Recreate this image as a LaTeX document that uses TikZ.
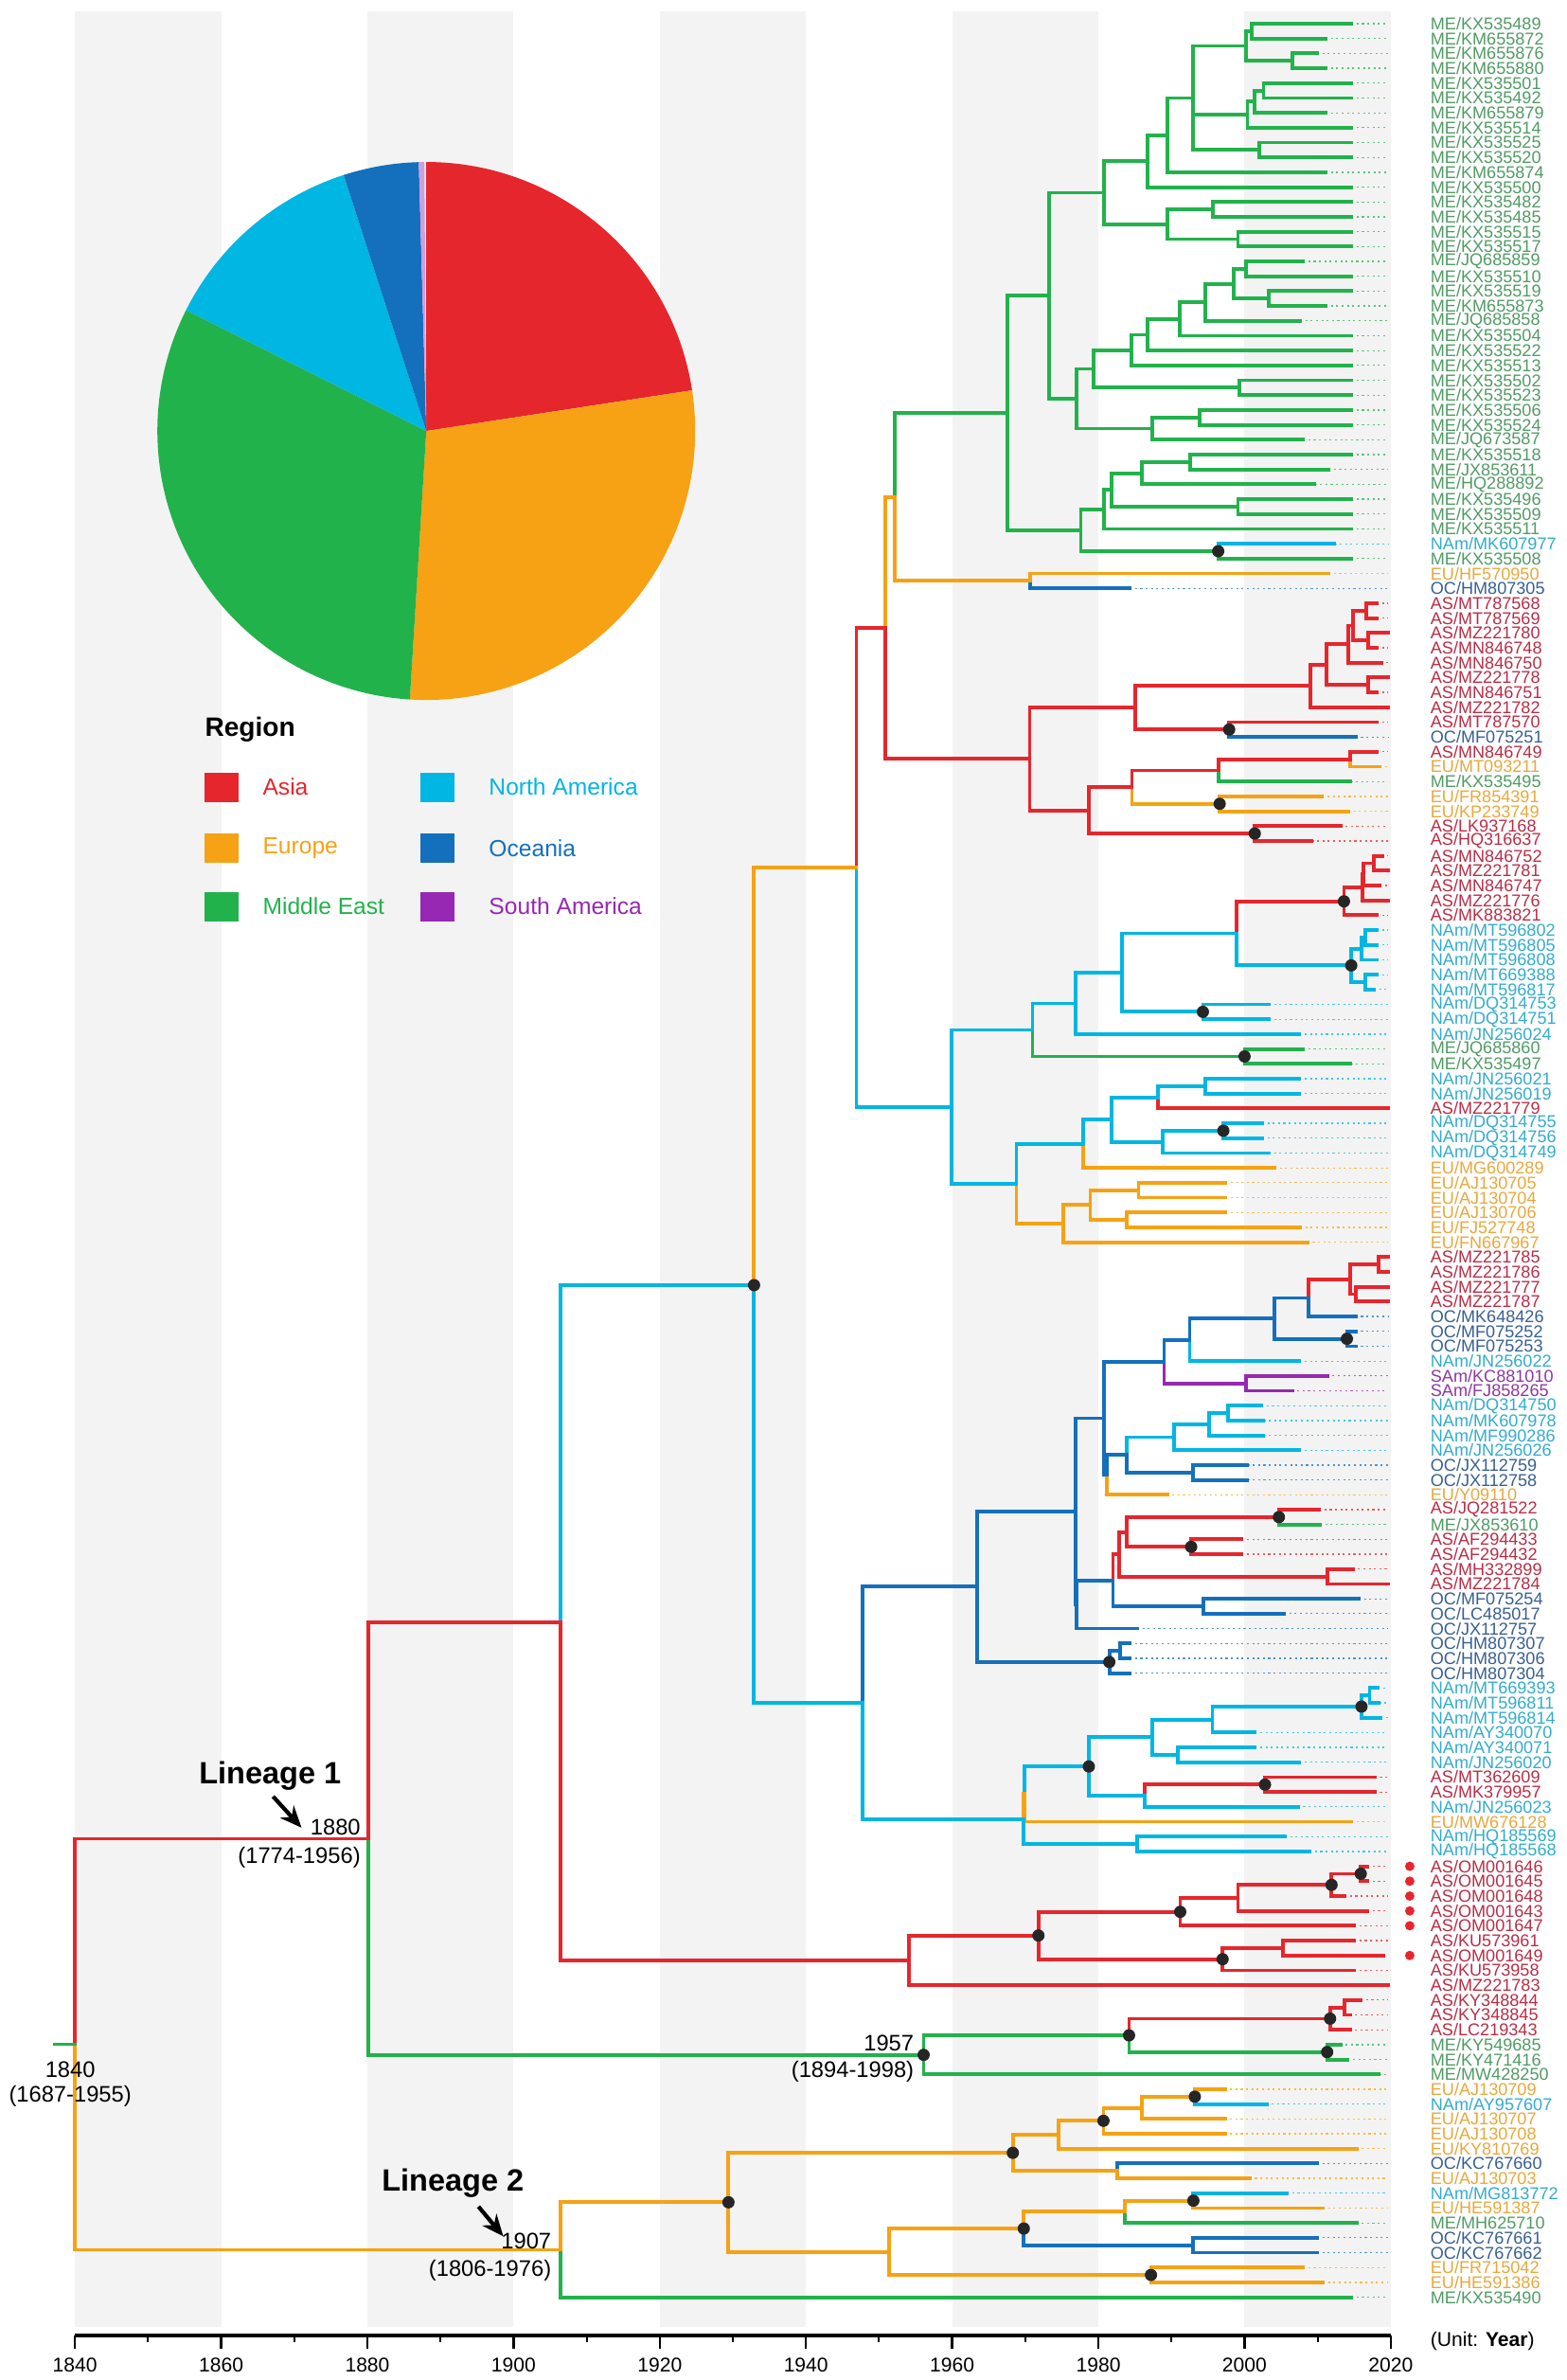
\documentclass[tikz,border=0pt]{standalone}
\usepackage{fontspec}
\setmainfont{Liberation Sans}
\usetikzlibrary{calc, arrows.meta}
% branch colours
\definecolor{AS}{RGB}{230, 38, 45}
\definecolor{EU}{RGB}{246, 162, 20}
\definecolor{ME}{RGB}{34, 178, 76}
\definecolor{NAm}{RGB}{0, 182, 226}
\definecolor{OC}{RGB}{20, 112, 188}
\definecolor{SAm}{RGB}{150, 40, 180}
% label colours
\definecolor{txtAS}{RGB}{185, 45, 70}
\definecolor{txtEU}{RGB}{232, 168, 60}
\definecolor{txtME}{RGB}{80, 155, 100}
\definecolor{txtNAm}{RGB}{50, 172, 205}
\definecolor{txtOC}{RGB}{55, 95, 145}
\definecolor{txtSAm}{RGB}{140, 55, 160}
\definecolor{bandgray}{RGB}{243, 243, 243}

% internal node: name, year, first child, last child
\newcommand\tnode[4]{%
  \coordinate (tmp) at ($(#3)!0.5!(#4)$);
  \coordinate (#1) at (#2,0 |- tmp);}
% branches: colour, parent, children
\newcommand\tedge[3]{\foreach \ch in {#3}{\draw[br,#1] (#2) |- (\ch);}}

\begin{document}
\begin{tikzpicture}[x=0.1544cm, y=-0.3138cm,
  br/.style={line width=2.2pt, line cap=rect},
  tipline/.style={line width=0.7pt, dash pattern=on 1.2pt off 2pt},
  tiplab/.style={anchor=west, inner sep=0pt, font=\fontsize{10.3}{10.3}\selectfont},
  yrlab/.style={inner sep=0pt, font=\fontsize{13.5}{13.5}\selectfont},
  linlab/.style={inner sep=0pt, font=\fontsize{18.5}{18.5}\selectfont\bfseries},
  legbox/.style={minimum width=0.72cm, minimum height=0.62cm, inner sep=0pt},
  legtxt/.style={anchor=west, inner sep=0pt, font=\fontsize{14}{14}\selectfont},
]
\useasboundingbox (1829.77,-0.593) rectangle (2044.02,159.57);

% Background bands
\foreach \yr in {1840,1880,...,2000}
  \fill[bandgray] (\yr,0.2) rectangle (\yr+20,156.0);

% Tips
\foreach \k/\rg/\acc/\tyr in {
 1/ME/KX535489/2014.6, 2/ME/KM655872/2011.1, 3/ME/KM655876/2009.9, 4/ME/KM655880/2011.1,
 5/ME/KX535501/2014.6, 6/ME/KX535492/2014.6, 7/ME/KM655879/2011.1, 8/ME/KX535514/2014.6,
 9/ME/KX535525/2014.6, 10/ME/KX535520/2014.6, 11/ME/KM655874/2011.1, 12/ME/KX535500/2014.6,
 13/ME/KX535482/2014.6, 14/ME/KX535485/2014.6, 15/ME/KX535515/2014.6, 16/ME/KX535517/2014.6,
 17/ME/JQ685859/2008.0, 18/ME/KX535510/2014.6, 19/ME/KX535519/2014.6, 20/ME/KM655873/2011.1,
 21/ME/JQ685858/2007.6, 22/ME/KX535504/2014.6, 23/ME/KX535522/2014.6, 24/ME/KX535513/2014.6,
 25/ME/KX535502/2014.6, 26/ME/KX535523/2014.6, 27/ME/KX535506/2014.6, 28/ME/KX535524/2014.6,
 29/ME/JQ673587/2008.0, 30/ME/KX535518/2014.6, 31/ME/JX853611/2011.5, 32/ME/HQ288892/2009.6,
 33/ME/KX535496/2014.6, 34/ME/KX535509/2014.6, 35/ME/KX535511/2014.6, 36/NAm/MK607977/2012.3,
 37/ME/KX535508/2014.6, 38/EU/HF570950/2011.5, 39/OC/HM807305/1984.3, 40/AS/MT787568/2018.1,
 41/AS/MT787569/2018.1, 42/AS/MZ221780/2019.7, 43/AS/MN846748/2018.1, 44/AS/MN846750/2018.7,
 45/AS/MZ221778/2019.7, 46/AS/MN846751/2018.1, 47/AS/MZ221782/2019.7, 48/AS/MT787570/2018.1,
 49/OC/MF075251/2015.2, 50/AS/MN846749/2018.1, 51/EU/MT093211/2018.5, 52/ME/KX535495/2014.5,
 53/EU/FR854391/2010.6, 54/EU/KP233749/2014.2, 55/AS/LK937168/2013.1, 56/AS/HQ316637/2009.2,
 57/AS/MN846752/2018.8, 58/AS/MZ221781/2019.7, 59/AS/MN846747/2018.5, 60/AS/MZ221776/2019.7,
 61/AS/MK883821/2018.1, 62/NAm/MT596802/2018.1, 63/NAm/MT596805/2018.1, 64/NAm/MT596808/2018.1,
 65/NAm/MT669388/2018.1, 66/NAm/MT596817/2017.7, 67/NAm/DQ314753/2003.3, 68/NAm/DQ314751/2003.3,
 69/NAm/JN256024/2007.5, 70/ME/JQ685860/2008.0, 71/ME/KX535497/2014.5, 72/NAm/JN256021/2007.5,
 73/NAm/JN256019/2007.5, 74/AS/MZ221779/2019.7, 75/NAm/DQ314755/2002.4, 76/NAm/DQ314756/2002.4,
 77/NAm/DQ314749/2003.3, 78/EU/MG600289/2004.1, 79/EU/AJ130705/1997.4, 80/EU/AJ130704/1997.4,
 81/EU/AJ130706/1997.4, 82/EU/FJ527748/2007.6, 83/EU/FN667967/2008.6, 84/AS/MZ221785/2019.7,
 85/AS/MZ221786/2019.7, 86/AS/MZ221777/2019.7, 87/AS/MZ221787/2019.7, 88/OC/MK648426/2015.2,
 89/OC/MF075252/2015.2, 90/OC/MF075253/2015.2, 91/NAm/JN256022/2007.5, 92/SAm/KC881010/2011.3,
 93/SAm/FJ858265/2006.5, 94/NAm/DQ314750/2002.3, 95/NAm/MK607978/2002.6, 96/NAm/MF990286/2002.6,
 97/NAm/JN256026/2007.5, 98/OC/JX112759/2000.4, 99/OC/JX112758/2000.4, 100/EU/Y09110/1989.4,
 101/AS/JQ281522/2010.2, 102/ME/JX853610/2010.3, 103/AS/AF294433/1999.6, 104/AS/AF294432/1999.6,
 105/AS/MH332899/2014.8, 106/AS/MZ221784/2019.7, 107/OC/MF075254/2015.6, 108/OC/LC485017/2005.4,
 109/OC/JX112757/1985.3, 110/OC/HM807307/1984.3, 111/OC/HM807306/1984.3, 112/OC/HM807304/1984.3,
 113/NAm/MT669393/2018.2, 114/NAm/MT596811/2018.4, 115/NAm/MT596814/2018.6, 116/NAm/AY340070/2001.4,
 117/NAm/AY340071/2001.4, 118/NAm/JN256020/2007.5, 119/AS/MT362609/2017.8, 120/AS/MK379957/2017.8,
 121/NAm/JN256023/2007.3, 122/EU/MW676128/2014.6, 123/NAm/HQ185569/2005.5, 124/NAm/HQ185568/2008.9,
 125/AS/OM001646/2016.8, 126/AS/OM001645/2016.8, 127/AS/OM001648/2013.7, 128/AS/OM001643/2016.8,
 129/AS/OM001647/2015.0, 130/AS/KU573961/2015.0, 131/AS/OM001649/2019.0, 132/AS/KU573958/2015.0,
 133/AS/MZ221783/2019.6, 134/AS/KY348844/2015.9, 135/AS/KY348845/2014.4, 136/AS/LC219343/2014.4,
 137/ME/KY549685/2013.1, 138/ME/KY471416/2014.1, 139/ME/MW428250/2018.4, 140/EU/AJ130709/1997.3,
 141/NAm/AY957607/2003.0, 142/EU/AJ130707/1997.3, 143/EU/AJ130708/1997.3, 144/EU/KY810769/2015.3,
 145/OC/KC767660/2009.9, 146/EU/AJ130703/2000.7, 147/NAm/MG813772/2005.8, 148/EU/HE591387/2010.7,
 149/ME/MH625710/2015.3, 150/OC/KC767661/2009.9, 151/OC/KC767662/2009.9, 152/EU/FR715042/2008.0,
 153/EU/HE591386/2010.7, 154/ME/KX535490/2014.6}{
  \coordinate (t\k) at (\tyr,\k);
  \draw[tipline,\rg!75] (t\k) -- (2019.6,\k);
  \node[tiplab, text=txt\rg] (lab\k) at (2025.4,\k) {\rg/\acc};
}

% Lineage 1: middle east clade
\tnode{nA1}{2001.0}{t1}{t2}
\tnode{nA2}{2006.5}{t3}{t4}
\tnode{nA3}{2000.2}{nA1}{nA2}
\tnode{nC1}{2002.6}{t5}{t6}
\tnode{nC2}{2001.4}{nC1}{t7}
\tnode{nC3}{2000.4}{nC2}{t8}
\tnode{nD}{2002.0}{t9}{t10}
\tnode{nB}{1992.9}{nA3}{nD}
\tnode{nG}{1989.5}{nB}{t11}
\tnode{nH}{1986.7}{nG}{t12}
\tnode{nI1}{1995.7}{t13}{t14}
\tnode{nI2}{1999.1}{t15}{t16}
\tnode{nI3}{1989.5}{nI1}{nI2}
\tnode{nJ}{1980.8}{nH}{nI3}
\tnode{nK1}{2000.2}{t17}{t18}
\tnode{nK2}{2003.3}{t19}{t20}
\tnode{nK3}{1998.5}{nK1}{nK2}
\tnode{nK4}{1994.6}{nK3}{t21}
\tnode{nK5}{1991.1}{nK4}{t22}
\tnode{nK6}{1986.7}{nK5}{t23}
\tnode{nK7}{1984.5}{nK6}{t24}
\tnode{nK8}{1999.3}{t25}{t26}
\tnode{nK9}{1979.4}{nK7}{nK8}
\tnode{nM1}{1993.9}{t27}{t28}
\tnode{nM2}{1987.4}{nM1}{t29}
\tnode{nK10}{1977.0}{nK9}{nM2}
\tnode{nL}{1973.3}{nJ}{nK10}
\tnode{nP1}{1992.6}{t30}{t31}
\tnode{nP2}{1986.0}{nP1}{t32}
\tnode{nP3}{1999.1}{t33}{t34}
\tnode{nP4}{1981.8}{nP2}{nP3}
\tnode{nP5}{1980.8}{nP4}{t35}
\tnode{nP6}{1996.4}{t36}{t37}
\tnode{nP7}{1977.6}{nP5}{nP6}
\tnode{nM}{1967.6}{nL}{nP7}
\tnode{nQ1}{1970.7}{t38}{t39}
\tnode{nN}{1952.1}{nM}{nQ1}
% asian clade
\tnode{nR1f}{2016.6}{t40}{t41}
\tnode{nR1g}{2016.9}{t42}{t43}
\tnode{nR1h}{2014.8}{nR1f}{nR1g}
\tnode{nR1d}{2014.2}{nR1h}{t44}
\tnode{nR1e}{2016.9}{t45}{t46}
\tnode{nR1c}{2011.2}{nR1d}{nR1e}
\tnode{nR1a}{2009.0}{nR1c}{t47}
\tnode{nR1b}{1997.9}{t48}{t49}
\tnode{nR1}{1985.1}{nR1a}{nR1b}
\tnode{nR7}{2014.5}{t50}{t51}
\tnode{nR5}{1996.4}{nR7}{t52}
\tnode{nR6}{1996.6}{t53}{t54}
\tnode{nR3}{1984.6}{nR5}{nR6}
\tnode{nR4}{2001.4}{t55}{t56}
\tnode{nR2}{1978.7}{nR3}{nR4}
\tnode{nR}{1970.6}{nR1}{nR2}
\tnode{nO}{1950.9}{nN}{nR}
% north american clade
\tnode{nV1}{2017.7}{t57}{t58}
\tnode{nV2}{2016.3}{nV1}{t59}
\tnode{nV3}{2016.1}{nV2}{t60}
\tnode{nU6}{2013.6}{nV3}{t61}
\tnode{nW1}{2016.5}{t62}{t63}
\tnode{nW2}{2016.0}{nW1}{t64}
\tnode{nW3}{2016.5}{t65}{t66}
\tnode{nU7}{2014.6}{nW2}{nW3}
\tnode{nU4}{1998.9}{nU6}{nU7}
\tnode{nU5}{1994.3}{t67}{t68}
\tnode{nU3}{1983.2}{nU4}{nU5}
\tnode{nU1}{1976.9}{nU3}{t69}
\tnode{nU2}{2000.0}{t70}{t71}
\tnode{nU}{1971.0}{nU1}{nU2}
\tnode{nV9}{1994.6}{t72}{t73}
\tnode{nV7}{1988.2}{nV9}{t74}
\tnode{nV10}{1997.1}{t75}{t76}
\tnode{nV8}{1988.8}{nV10}{t77}
\tnode{nV6}{1981.8}{nV7}{nV8}
\tnode{nV4}{1977.9}{nV6}{t78}
\tnode{nX1}{1985.5}{t79}{t80}
\tnode{nX2}{1983.9}{t81}{t82}
\tnode{nX3}{1978.9}{nX1}{nX2}
\tnode{nV5}{1975.2}{nX3}{t83}
\tnode{nV}{1968.8}{nV4}{nV5}
\tnode{nQ}{1959.9}{nU}{nV}
\tnode{nP}{1946.9}{nO}{nQ}
% oceanian clade
\tnode{nY19}{2018.3}{t84}{t85}
\tnode{nY20}{2015.2}{t86}{t87}
\tnode{nY18}{2014.5}{nY19}{nY20}
\tnode{nY16}{2008.8}{nY18}{t88}
\tnode{nY17}{2014.0}{t89}{t90}
\tnode{nY15}{2004.1}{nY16}{nY17}
\tnode{nY13}{1992.5}{nY15}{t91}
\tnode{nY14}{2000.2}{t92}{t93}
\tnode{nY6}{1989.0}{nY13}{nY14}
\tnode{nY12}{1997.7}{t94}{t95}
\tnode{nY11}{1995.2}{nY12}{t96}
\tnode{nY9}{1990.4}{nY11}{t97}
\tnode{nY10}{1992.9}{t98}{t99}
\tnode{nY8}{1983.9}{nY9}{nY10}
\tnode{nY7}{1981.2}{nY8}{t100}
\tnode{nY4}{1980.8}{nY6}{nY7}
\tnode{nY25}{2004.7}{t101}{t102}
\tnode{nY26}{1992.7}{t103}{t104}
\tnode{nY23}{1983.9}{nY25}{nY26}
\tnode{nY24}{2011.3}{t105}{t106}
\tnode{nY21}{1982.8}{nY23}{nY24}
\tnode{nY22}{1994.4}{t107}{t108}
\tnode{nY5}{1982.0}{nY21}{nY22}
\tnode{nY1b}{1977.0}{nY5}{t109}
\tnode{nY1}{1976.9}{nY4}{nY1b}
\tnode{nY3}{1983.0}{t110}{t111}
\tnode{nY2}{1981.5}{nY3}{t112}
\tnode{nY}{1963.4}{nY1}{nY2}
\tnode{nZ2}{2017.1}{t113}{t114}
\tnode{nZ1}{2016.0}{nZ2}{t115}
\tnode{nZ3}{1995.6}{nZ1}{t116}
\tnode{nZ5}{1990.9}{t117}{t118}
\tnode{nZ4}{1987.4}{nZ3}{nZ5}
\tnode{nZ9}{2002.8}{t119}{t120}
\tnode{nZ8}{1986.3}{nZ9}{t121}
\tnode{nZ6}{1978.7}{nZ4}{nZ8}
\tnode{nZ10a}{1969.9}{nZ6}{t122}
\tnode{nZ11}{1985.3}{t123}{t124}
\tnode{nZ10}{1969.8}{nZ10a}{nZ11}
\tnode{nT}{1947.7}{nY}{nZ10}
\tnode{nS}{1932.9}{nP}{nT}
% OM sequences
\tnode{nAG}{2015.9}{t125}{t126}
\tnode{nAF}{2011.9}{nAG}{t127}
\tnode{nAE}{1999.1}{nAF}{t128}
\tnode{nAC}{1991.2}{nAE}{t129}
\tnode{nAH}{2005.2}{t130}{t131}
\tnode{nAD}{1997.0}{nAH}{t132}
\tnode{nAB}{1971.8}{nAC}{nAD}
\tnode{nAA}{1954.1}{nAB}{t133}
\tnode{nL1b}{1906.4}{nS}{nAA}
\tnode{nAL}{2013.7}{t134}{t135}
\tnode{nAJ}{2011.7}{nAL}{t136}
\tnode{nAK}{2011.3}{t137}{t138}
\tnode{nAI}{1984.2}{nAJ}{nAK}
\tnode{nG57}{1956.1}{nAI}{t139}
\tnode{nL1}{1880.1}{nL1b}{nG57}
% Lineage 2
\tnode{nAT}{1993.2}{t140}{t141}
\tnode{nAS}{1986.0}{nAT}{t142}
\tnode{nAR}{1980.7}{nAS}{t143}
\tnode{nAP}{1974.6}{nAR}{t144}
\tnode{nAQ}{1982.6}{t145}{t146}
\tnode{nAN}{1968.3}{nAP}{nAQ}
\tnode{nAY}{1993.0}{t147}{t148}
\tnode{nAW}{1983.6}{nAY}{t149}
\tnode{nAX}{1993.0}{t150}{t151}
\tnode{nAU}{1969.8}{nAW}{nAX}
\tnode{nAV}{1987.2}{t152}{t153}
\tnode{nAO}{1951.4}{nAU}{nAV}
\tnode{nAM}{1929.4}{nAN}{nAO}
\tnode{nL2}{1906.4}{nAM}{t154}
\tnode{nRoot}{1840}{nL1}{nL2}

% Branches
\tedge{ME}{nA1}{t1,t2}
\tedge{ME}{nA2}{t3,t4}
\tedge{ME}{nA3}{nA1,nA2}
\tedge{ME}{nC1}{t5,t6}
\tedge{ME}{nC2}{nC1,t7}
\tedge{ME}{nC3}{nC2,t8}
\tedge{ME}{nD}{t9,t10}
\tedge{ME}{nB}{nA3,nC3,nD}
\tedge{ME}{nG}{nB,t11}
\tedge{ME}{nH}{nG,t12}
\tedge{ME}{nI1}{t13,t14}
\tedge{ME}{nI2}{t15,t16}
\tedge{ME}{nI3}{nI1,nI2}
\tedge{ME}{nJ}{nH,nI3}
\tedge{ME}{nK1}{t17,t18}
\tedge{ME}{nK2}{t19,t20}
\tedge{ME}{nK3}{nK1,nK2}
\tedge{ME}{nK4}{nK3,t21}
\tedge{ME}{nK5}{nK4,t22}
\tedge{ME}{nK6}{nK5,t23}
\tedge{ME}{nK7}{nK6,t24}
\tedge{ME}{nK8}{t25,t26}
\tedge{ME}{nK9}{nK7,nK8}
\tedge{ME}{nM1}{t27,t28}
\tedge{ME}{nM2}{nM1,t29}
\tedge{ME}{nK10}{nK9,nM2}
\tedge{ME}{nL}{nJ,nK10}
\tedge{ME}{nP1}{t30,t31}
\tedge{ME}{nP2}{nP1,t32}
\tedge{ME}{nP3}{t33,t34}
\tedge{ME}{nP4}{nP2,nP3}
\tedge{ME}{nP5}{nP4,t35}
\tedge{NAm}{nP6}{t36}
\tedge{ME}{nP6}{t37}
\tedge{ME}{nP7}{nP5,nP6}
\tedge{ME}{nM}{nL,nP7}
\tedge{ME}{nN}{nM}
\tedge{EU}{nQ1}{t38}
\tedge{OC}{nQ1}{t39}
\tedge{EU}{nN}{nQ1}
\tedge{EU}{nO}{nN}
\tedge{AS}{nR1f}{t40,t41}
\tedge{AS}{nR1g}{t42,t43}
\tedge{AS}{nR1h}{nR1f,nR1g}
\tedge{AS}{nR1d}{nR1h,t44}
\tedge{AS}{nR1e}{t45,t46}
\tedge{AS}{nR1c}{nR1d,nR1e}
\tedge{AS}{nR1a}{nR1c,t47}
\tedge{AS}{nR1b}{t48}
\tedge{OC}{nR1b}{t49}
\tedge{AS}{nR1}{nR1a,nR1b}
\tedge{AS}{nR7}{t50}
\tedge{EU}{nR7}{t51}
\tedge{AS}{nR5}{nR7}
\tedge{ME}{nR5}{t52}
\tedge{EU}{nR6}{t53,t54}
\tedge{AS}{nR3}{nR5}
\tedge{EU}{nR3}{nR6}
\tedge{AS}{nR4}{t55,t56}
\tedge{AS}{nR2}{nR3,nR4}
\tedge{AS}{nR}{nR1,nR2}
\tedge{AS}{nO}{nR}
\tedge{AS}{nV1}{t57,t58}
\tedge{AS}{nV2}{nV1,t59}
\tedge{AS}{nV3}{nV2,t60}
\tedge{AS}{nU6}{nV3,t61}
\tedge{NAm}{nW1}{t62,t63}
\tedge{NAm}{nW2}{nW1,t64}
\tedge{NAm}{nW3}{t65,t66}
\tedge{NAm}{nU7}{nW2,nW3}
\tedge{AS}{nU4}{nU6}
\tedge{NAm}{nU4}{nU7}
\tedge{NAm}{nU5}{t67,t68}
\tedge{NAm}{nU3}{nU4,nU5}
\tedge{NAm}{nU1}{nU3,t69}
\tedge{ME}{nU2}{t70,t71}
\tedge{NAm}{nU}{nU1}
\tedge{ME}{nU}{nU2}
\tedge{NAm}{nV9}{t72,t73}
\tedge{NAm}{nV7}{nV9}
\tedge{AS}{nV7}{t74}
\tedge{NAm}{nV10}{t75,t76}
\tedge{NAm}{nV8}{nV10,t77}
\tedge{NAm}{nV6}{nV7,nV8}
\tedge{NAm}{nV4}{nV6}
\tedge{EU}{nV4}{t78}
\tedge{EU}{nX1}{t79,t80}
\tedge{EU}{nX2}{t81,t82}
\tedge{EU}{nX3}{nX1,nX2}
\tedge{EU}{nV5}{nX3,t83}
\tedge{NAm}{nV}{nV4}
\tedge{EU}{nV}{nV5}
\tedge{NAm}{nQ}{nU,nV}
\tedge{AS}{nP}{nO}
\tedge{NAm}{nP}{nQ}
\tedge{AS}{nY19}{t84,t85}
\tedge{AS}{nY20}{t86,t87}
\tedge{AS}{nY18}{nY19,nY20}
\tedge{AS}{nY16}{nY18}
\tedge{OC}{nY16}{t88}
\tedge{OC}{nY17}{t89,t90}
\tedge{OC}{nY15}{nY16,nY17}
\tedge{OC}{nY13}{nY15}
\tedge{NAm}{nY13}{t91}
\tedge{SAm}{nY14}{t92,t93}
\tedge{OC}{nY6}{nY13}
\tedge{SAm}{nY6}{nY14}
\tedge{NAm}{nY12}{t94,t95}
\tedge{NAm}{nY11}{nY12,t96}
\tedge{NAm}{nY9}{nY11,t97}
\tedge{OC}{nY10}{t98,t99}
\tedge{NAm}{nY8}{nY9}
\tedge{OC}{nY8}{nY10}
\tedge{OC}{nY7}{nY8}
\tedge{EU}{nY7}{t100}
\tedge{OC}{nY4}{nY6,nY7}
\tedge{AS}{nY25}{t101}
\tedge{ME}{nY25}{t102}
\tedge{AS}{nY26}{t103,t104}
\tedge{AS}{nY23}{nY25,nY26}
\tedge{AS}{nY24}{t105,t106}
\tedge{AS}{nY21}{nY23,nY24}
\tedge{OC}{nY22}{t107,t108}
\tedge{AS}{nY5}{nY21}
\tedge{OC}{nY5}{nY22}
\tedge{OC}{nY1b}{nY5,t109}
\tedge{OC}{nY1}{nY4,nY1b}
\tedge{OC}{nY3}{t110,t111}
\tedge{OC}{nY2}{nY3,t112}
\tedge{OC}{nY}{nY1,nY2}
\tedge{NAm}{nZ2}{t113,t114}
\tedge{NAm}{nZ1}{nZ2,t115}
\tedge{NAm}{nZ3}{nZ1,t116}
\tedge{NAm}{nZ5}{t117,t118}
\tedge{NAm}{nZ4}{nZ3,nZ5}
\tedge{AS}{nZ9}{t119,t120}
\tedge{AS}{nZ8}{nZ9}
\tedge{NAm}{nZ8}{t121}
\tedge{NAm}{nZ6}{nZ4,nZ8}
\tedge{NAm}{nZ10a}{nZ6}
\tedge{EU}{nZ10a}{t122}
\tedge{NAm}{nZ11}{t123,t124}
\tedge{EU}{nZ10}{nZ10a}
\tedge{NAm}{nZ10}{nZ11}
\tedge{OC}{nT}{nY}
\tedge{NAm}{nT}{nZ10}
\tedge{EU}{nS}{nP}
\tedge{NAm}{nS}{nT}
\tedge{AS}{nAG}{t125,t126}
\tedge{AS}{nAF}{nAG,t127}
\tedge{AS}{nAE}{nAF,t128}
\tedge{AS}{nAC}{nAE,t129}
\tedge{AS}{nAH}{t130,t131}
\tedge{AS}{nAD}{nAH,t132}
\tedge{AS}{nAB}{nAC,nAD}
\tedge{AS}{nAA}{nAB,t133}
\tedge{NAm}{nL1b}{nS}
\tedge{AS}{nL1b}{nAA}
\tedge{AS}{nAL}{t134,t135}
\tedge{AS}{nAJ}{nAL,t136}
\tedge{ME}{nAK}{t137,t138}
\tedge{AS}{nAI}{nAJ}
\tedge{ME}{nAI}{nAK}
\tedge{ME}{nG57}{nAI,t139}
\tedge{AS}{nL1}{nL1b}
\tedge{ME}{nL1}{nG57}
\tedge{EU}{nAT}{t140}
\tedge{NAm}{nAT}{t141}
\tedge{EU}{nAS}{nAT,t142}
\tedge{EU}{nAR}{nAS,t143}
\tedge{EU}{nAP}{nAR,t144}
\tedge{OC}{nAQ}{t145}
\tedge{EU}{nAQ}{t146}
\tedge{EU}{nAN}{nAP,nAQ}
\tedge{NAm}{nAY}{t147}
\tedge{EU}{nAY}{t148}
\tedge{EU}{nAW}{nAY}
\tedge{ME}{nAW}{t149}
\tedge{OC}{nAX}{t150,t151}
\tedge{EU}{nAU}{nAW}
\tedge{OC}{nAU}{nAX}
\tedge{EU}{nAV}{t152,t153}
\tedge{EU}{nAO}{nAU,nAV}
\tedge{EU}{nAM}{nAN,nAO}
\tedge{EU}{nL2}{nAM}
\tedge{ME}{nL2}{t154}
\tedge{AS}{nRoot}{nL1}
\tedge{EU}{nRoot}{nL2}
\draw[br,ME] (nRoot) -- (nRoot -| 1837.2,0);

% Supported nodes
\foreach \n in {nP6,nR1b,nR6,nR4,nU6,nU7,nU5,nU2,nV10,nS,nY17,nY25,nY26,nY2,nZ1,nZ6,nZ9,
                nAG,nAF,nAC,nAB,nAD,nAJ,nAK,nAI,nG57,nAT,nAR,nAN,nAM,nAY,nAU,nAV}
  \fill[black!85] (\n) circle (0.13cm);

% New sequences
\foreach \k in {125,126,127,128,129,131}
  \fill[AS] (2022.6,\k) circle (0.1cm);

% Dates at the main nodes
\node[yrlab, anchor=east] (d1880) at (1879.1,122.4) {1880};
\node[yrlab, anchor=east] (r1880) at (1879.1,124.4) {(1774-1956)};
\node[yrlab, anchor=east] (d1907) at (1905.2,150.2) {1907};
\node[yrlab, anchor=east] (r1907) at (1905.2,152.2) {(1806-1976)};
\node[yrlab, anchor=east] (d1957) at (1954.8,136.9) {1957};
\node[yrlab, anchor=east] (r1957) at (1954.8,138.8) {(1894-1998)};
\node[yrlab] (d1840) at (1839.35,138.7) {1840};
\node[yrlab] (r1840) at (1839.35,140.5) {(1687-1955)};

% Lineages
\node[linlab] (lin1) at (1866.7,118.9) {Lineage 1};
\node[linlab] (lin2) at (1891.7,146.3) {Lineage 2};
\coordinate (ar1s) at (1867.1,120.3);
\coordinate (ar1e) at (1871.0,122.4);
\coordinate (ar2s) at (1895.2,147.9);
\coordinate (ar2e) at (1898.6,149.9);
\draw[line width=2.4pt, -{Stealth[length=13pt, width=11pt]}] (ar1s) -- (ar1e);
\draw[line width=2.4pt, -{Stealth[length=13pt, width=11pt]}] (ar2s) -- (ar2e);

% Time axis
\coordinate (ax0) at (1840,156.6);
\coordinate (ax1) at (2020,156.6);
\draw[line width=2.3pt] (ax0) -- (ax1);
\foreach \yr in {1850,1870,...,2010}
  \draw[line width=1.2pt] (\yr,156.6) -- (\yr,157.05);
\foreach \yr in {1840,1860,...,2020}{
  \draw[line width=1.4pt] (\yr,156.6) -- (\yr,157.45);
  \node[inner sep=0pt, font=\fontsize{12}{12}\selectfont] (tick\yr) at (\yr,158.55) {\yr};
}
\node[anchor=west, inner sep=0pt, font=\fontsize{12}{12}\selectfont] (unit) at (2025.4,156.96)
  {(Unit: \textbf{Year})};

% Pie chart
\coordinate (pie) at (1888.06,28.41);
\foreach \a/\b/\cl in {90/8.7/AS, 8.7/-93.5/EU, -93.5/-206.7/ME, 153.3/107.9/NAm,
                        107.9/91.6/OC, 91.6/90.4/SAm!45}
  \fill[\cl] (pie) -- ++(\a:5.68cm) arc[start angle=\a, end angle=\b, radius=5.68cm] -- cycle;

% Legend
\node[anchor=west, inner sep=0pt, font=\fontsize{16}{16}\selectfont\bfseries] (legtitle)
  at (1857.75,48.48) {Region};
\node[legbox, fill=AS] (sqAS) at (1860.08,52.37) {};
\node[legbox, fill=EU] (sqEU) at (1860.08,56.51) {};
\node[legbox, fill=ME] (sqME) at (1860.08,60.40) {};
\node[legbox, fill=NAm] (sqNAm) at (1889.61,52.37) {};
\node[legbox, fill=OC] (sqOC) at (1889.61,56.51) {};
\node[legbox, fill=SAm] (sqSAm) at (1889.61,60.40) {};
\node[legtxt, text=AS] (txAS) at (1865.65,52.37) {Asia};
\node[legtxt, text=EU] (txEU) at (1865.65,56.51) {Europe};
\node[legtxt, text=ME] (txME) at (1865.65,60.40) {Middle East};
\node[legtxt, text=NAm] (txNAm) at (1896.6,52.37) {North America};
\node[legtxt, text=OC] (txOC) at (1896.6,56.51) {Oceania};
\node[legtxt, text=SAm] (txSAm) at (1896.6,60.40) {South America};
\end{tikzpicture}
\end{document}
